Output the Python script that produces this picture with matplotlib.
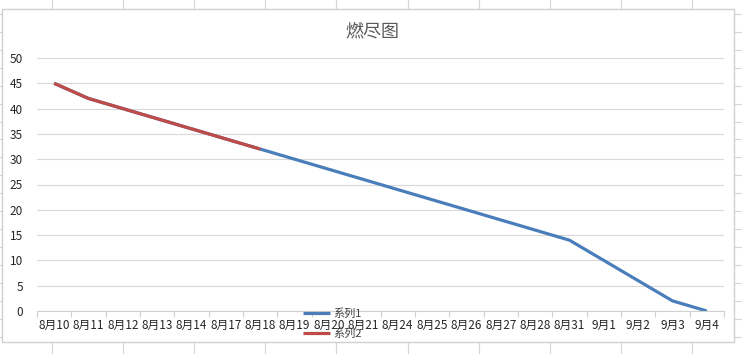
import matplotlib.pyplot as plt
from matplotlib.patches import Rectangle
from matplotlib.lines import Line2D
import numpy as np

plt.rcParams['font.family'] = ['Noto Sans CJK SC', 'DejaVu Sans']

dates = ['8月10', '8月11', '8月12', '8月13', '8月14', '8月17', '8月18', '8月19',
         '8月20', '8月21', '8月24', '8月25', '8月26', '8月27', '8月28', '8月31',
         '9月1', '9月2', '9月3', '9月4']
series1 = [45, 42, 40, 38, 36, 34, 32, 30, 28, 26, 24, 22, 20, 18, 16, 14, 10, 6, 2, 0]
series2 = [45, 42, 40, 38, 36, 34, 32]
title = '燃尽图'

W, H = 742, 354
fig = plt.figure(figsize=(W / 100, H / 100), dpi=100)

# excel sheet cells behind the chart
for cx in np.arange(52, W, 71.1):
    fig.add_artist(Line2D([cx / W, cx / W], [0, 1], color='#d4d4d4', lw=0.8, zorder=-3))
for ry in np.arange(14, H, 17.92):
    fig.add_artist(Line2D([0, 1], [1 - ry / H, 1 - ry / H], color='#d4d4d4', lw=0.8, zorder=-3))
fig.add_artist(Rectangle((2 / W, 1 - 342 / H), 732 / W, 333 / H, facecolor='white',
                         edgecolor='#d0d0d0', lw=1, zorder=-2))

ax = fig.add_axes([37 / W, 1 - 311 / H, 687 / W, 253 / H])
ax.patch.set_alpha(0)
x = np.arange(len(dates))
ax.plot(x, series1, color='#4a7ebb', lw=2.3, label='系列1', solid_capstyle='butt')
ax.plot(x[:len(series2)], series2, color='#be4b48', lw=2.3, label='系列2', solid_capstyle='butt')

ax.set_xlim(-0.5, len(dates) - 0.5)
ax.set_ylim(0, 50)
ax.set_yticks(range(0, 51, 5))
ax.set_xticks(x)
ax.set_xticklabels(dates)
ax.set_xticks(np.arange(-0.5, len(dates), 1), minor=True)
ax.tick_params(axis='x', which='major', length=0, pad=6, labelsize=8.5, labelcolor='#262626')
ax.tick_params(axis='x', which='minor', length=4, color='#d0d0d0', width=0.8)
ax.tick_params(axis='y', length=0, pad=10, labelsize=8.5, labelcolor='#262626')
ax.grid(axis='y', color='#d9d9d9', lw=0.8)
ax.set_axisbelow(True)
for s in ['top', 'right', 'left']:
    ax.spines[s].set_visible(False)
ax.spines['bottom'].set_color('#d0d0d0')
ax.spines['bottom'].set_linewidth(0.8)

fig.text(372 / W, 1 - 32 / H, title, ha='center', va='center', fontsize=13, color='#595959')

fig.legend(loc='upper left', bbox_to_anchor=(303 / W, 1 - 308 / H), frameon=False,
           fontsize=8, handlelength=2.4, handletextpad=0.3, labelspacing=0.85,
           borderpad=0, borderaxespad=0, labelcolor='#404040')

fig.savefig('out.png', dpi=100)
